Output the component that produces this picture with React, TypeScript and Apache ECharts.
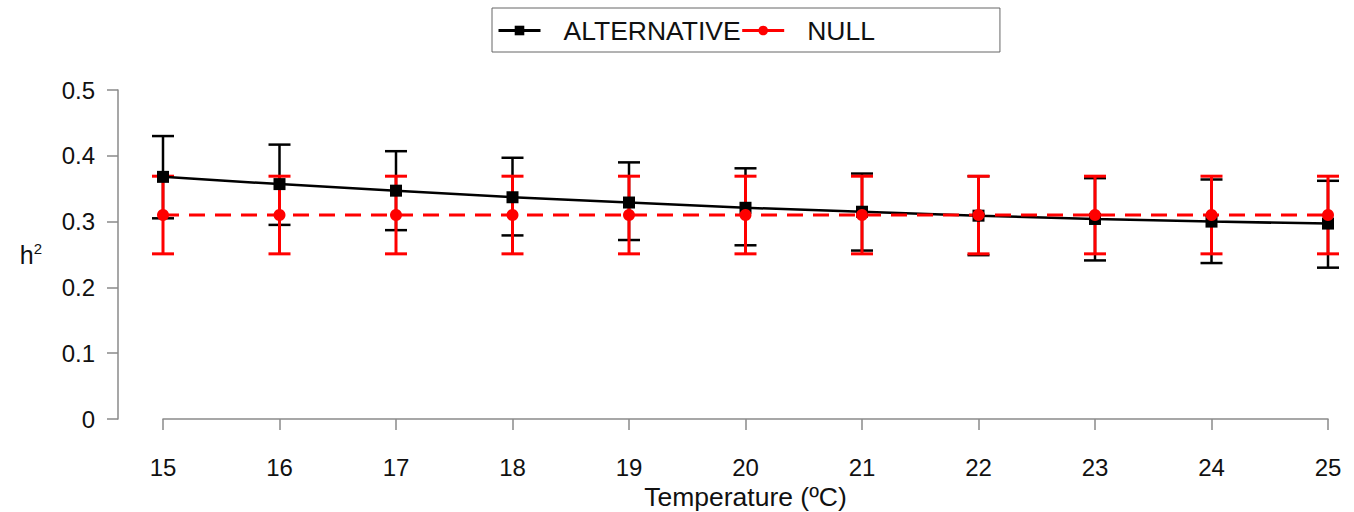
import React, { useEffect, useRef } from "react";
import * as echarts from "echarts";

const temps = [15, 16, 17, 18, 19, 20, 21, 22, 23, 24, 25];
const altMean = [0.368, 0.357, 0.347, 0.337, 0.329, 0.321, 0.315, 0.309, 0.304, 0.300, 0.297];
const altLow = [0.305, 0.295, 0.287, 0.279, 0.272, 0.264, 0.256, 0.249, 0.241, 0.237, 0.230];
const altHigh = [0.430, 0.417, 0.407, 0.397, 0.390, 0.381, 0.373, 0.369, 0.366, 0.364, 0.362];
const nullMean = [0.310, 0.310, 0.310, 0.310, 0.310, 0.310, 0.310, 0.310, 0.310, 0.310, 0.310];
const nullLow = [0.251, 0.251, 0.251, 0.251, 0.251, 0.251, 0.251, 0.251, 0.251, 0.251, 0.251];
const nullHigh = [0.369, 0.369, 0.369, 0.369, 0.369, 0.369, 0.369, 0.369, 0.369, 0.369, 0.369];
const yTicks = ["0", "0.1", "0.2", "0.3", "0.4", "0.5"];

const FONT = "Liberation Sans, Arial, sans-serif";

function errorBars(name: string, low: number[], high: number[], color: string, width: number) {
  return {
    type: "custom",
    name: name + "_err",
    silent: true,
    data: temps.map((t, i) => [t, low[i], high[i]]),
    renderItem: (params: any, api: any) => {
      const x = api.value(0);
      const lo = api.coord([x, api.value(1)]);
      const hi = api.coord([x, api.value(2)]);
      const cap = 11;
      const style = { stroke: color, lineWidth: width, fill: "none" };
      return {
        type: "group",
        children: [
          { type: "line", shape: { x1: lo[0], y1: lo[1], x2: hi[0], y2: hi[1] }, style },
          { type: "line", shape: { x1: lo[0] - cap, y1: lo[1], x2: lo[0] + cap, y2: lo[1] }, style },
          { type: "line", shape: { x1: hi[0] - cap, y1: hi[1], x2: hi[0] + cap, y2: hi[1] }, style },
        ],
      };
    },
  };
}

export default function App() {
  const ref = useRef<HTMLDivElement>(null);
  useEffect(() => {
    if (!ref.current) return;
    const chart = echarts.init(ref.current, null, { renderer: "svg" });
    const axisColor = "#8a8a8a";
    chart.setOption({
      animation: false,
      textStyle: { fontFamily: FONT },
      legend: {
        left: 492,
        top: 8,
        padding: [9, 125, 8, 5],
        itemGap: 0,
        itemWidth: 42,
        itemHeight: 12,
        borderColor: "#666",
        borderWidth: 1,
        textStyle: { fontSize: 26.5, color: "#111", fontFamily: FONT, padding: [0, 0, 0, 18] },
        data: [
          { name: "ALTERNATIVE", lineStyle: { width: 3 } },
          { name: "NULL", lineStyle: { type: "solid", width: 3 } },
        ],
      },
      grid: { left: 163, right: 26, top: 90, bottom: 93, containLabel: false, outerBoundsMode: "none" },
      xAxis: {
        type: "value",
        min: 15,
        max: 25,
        interval: 1,
        offset: 14,
        name: "Temperature (ºC)",
        nameLocation: "middle",
        nameGap: 48,
        nameTextStyle: { fontSize: 26.5, color: "#111", fontFamily: FONT },
        axisLine: { lineStyle: { color: axisColor, width: 1.5 } },
        axisTick: { length: 11, lineStyle: { color: axisColor, width: 1.5 } },
        axisLabel: { fontSize: 24, color: "#111", margin: 22, fontFamily: FONT },
        splitLine: { show: false },
      },
      yAxis: {
        type: "value",
        min: 0,
        max: 0.5,
        interval: 0.1,
        offset: 45,
        name: "{h|h}{s|2}",
        nameLocation: "middle",
        nameRotate: 0,
        nameGap: 76,
        nameTextStyle: {
          align: "right",
          rich: {
            h: { fontSize: 25, color: "#111", fontFamily: FONT },
            s: { fontSize: 15, color: "#111", fontFamily: FONT, padding: [0, 0, 12, 0] },
          },
        },
        axisLine: { show: true, lineStyle: { color: axisColor, width: 1.5 } },
        axisTick: { show: true, length: 11, lineStyle: { color: axisColor, width: 1.5 } },
        axisLabel: {
          fontSize: 24,
          color: "#111",
          margin: 23,
          fontFamily: FONT,
          formatter: (v: number) => yTicks[Math.round(v * 10)] ?? String(v),
        },
        splitLine: { show: false },
      },
      series: [
        errorBars("ALTERNATIVE", altLow, altHigh, "#000", 2.5),
        {
          type: "line",
          name: "ALTERNATIVE",
          data: temps.map((t, i) => [t, altMean[i]]),
          symbol: "rect",
          symbolSize: 12,
          showSymbol: true,
          itemStyle: { color: "#000" },
          lineStyle: { color: "#000", width: 2.5 },
        },
        errorBars("NULL", nullLow, nullHigh, "#ff0000", 3),
        {
          type: "line",
          name: "NULL",
          data: temps.map((t, i) => [t, nullMean[i]]),
          symbol: "circle",
          symbolSize: 12,
          showSymbol: true,
          itemStyle: { color: "#ff0000" },
          lineStyle: { color: "#ff0000", width: 3, type: [16, 10] },
        },
      ],
    });
    return () => chart.dispose();
  }, []);
  return (
    <div
      ref={ref}
      style={{ position: "fixed", left: 0, top: 0, width: 1354, height: 512, background: "#fff" }}
    />
  );
}
